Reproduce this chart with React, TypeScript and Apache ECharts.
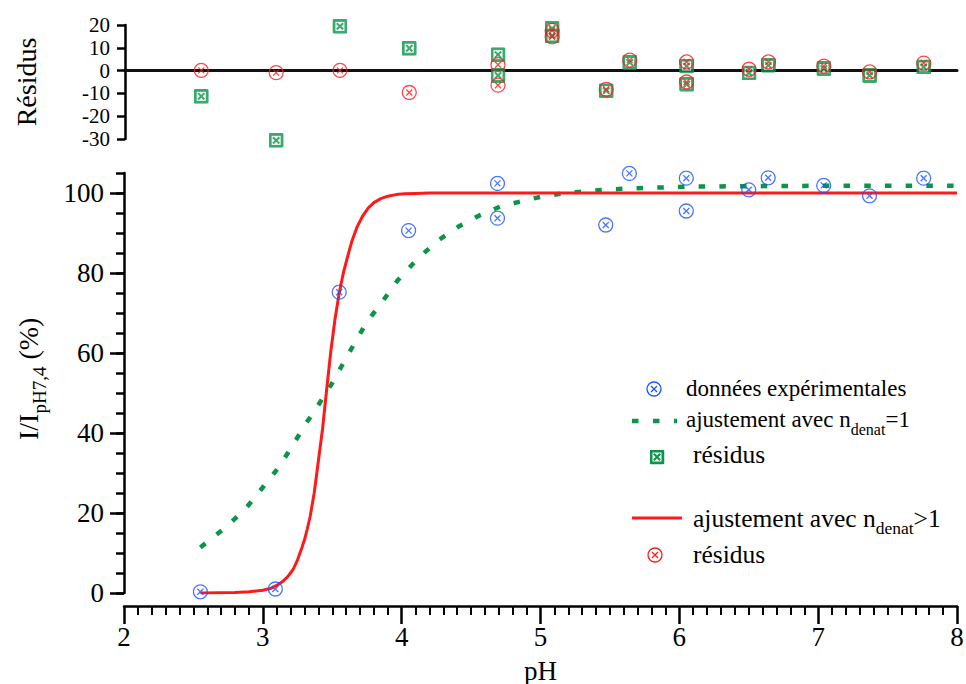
import React, { useEffect, useRef } from "react";
import * as echarts from "echarts";

const FONT = "Liberation Serif";
const INK = "#000";
const BLUE = "#1a55ff";
const RED = "#ff1a1a";
const GREEN = "#0a9548";

// measured samples
const phData = [2.55, 3.09, 3.55, 4.05, 4.69, 4.69, 5.08, 5.08, 5.47, 5.64, 6.05, 6.05, 6.5, 6.64, 7.04, 7.37, 7.76];
const intensity = [0.3, 1.0, 75.2, 90.6, 102.4, 93.7, 117.5, 115.0, 92.0, 104.9, 103.7, 95.5, 100.8, 103.8, 101.9, 99.3, 103.7];
// residuals
const residN1 = [-11.3, -30.6, 19.4, 9.8, 7.0, -2.1, 18.5, 15.2, -8.8, 3.6, 2.0, -6.0, -1.0, 2.3, 0.9, -2.1, 1.6];
const residNgt1 = [0.1, -0.9, 0.1, -9.6, 2.6, -6.4, 17.6, 14.8, -8.2, 4.6, 3.8, -5.0, 0.6, 3.8, 2.0, -0.6, 3.3];
// fit n_denat = 1
const fitN1pH = [2.55, 2.71, 2.87, 2.99, 3.11, 3.21, 3.3, 3.4, 3.5, 3.58, 3.66, 3.75, 3.86, 3.97, 4.11, 4.26, 4.41, 4.56, 4.71, 4.88, 5.01, 5.16, 5.31, 5.46, 5.61, 5.76, 5.91, 6.06, 6.5, 7.0, 7.5, 8.0];
const fitN1Val = [11.4, 15.8, 20.8, 26.0, 31.2, 36.6, 41.8, 47.0, 52.5, 57.5, 62.4, 67.8, 72.8, 78.1, 83.4, 88.1, 91.6, 94.4, 96.6, 98.1, 99.1, 99.9, 100.4, 100.8, 101.1, 101.3, 101.4, 101.6, 101.7, 101.8, 101.8, 101.8];
// fit n_denat > 1
const fitN2pH = [2.55, 2.7, 2.8, 2.9, 3.0, 3.06, 3.1, 3.14, 3.18, 3.22, 3.25, 3.28, 3.3, 3.32, 3.34, 3.37, 3.4, 3.43, 3.46, 3.49, 3.52, 3.55, 3.58, 3.61, 3.64, 3.68, 3.72, 3.76, 3.8, 3.85, 3.9, 3.96, 4.02, 4.1, 4.2, 4.35, 4.6, 5.0, 6.0, 7.0, 8.0];
const fitN2Val = [0.0, 0.05, 0.1, 0.3, 0.7, 1.2, 1.9, 2.8, 4.1, 6.0, 8.3, 11.2, 13.3, 16.0, 19.0, 25.0, 33.0, 41.0, 51.0, 60.5, 68.5, 75.0, 80.0, 84.0, 87.8, 91.6, 94.3, 96.3, 97.6, 98.6, 99.2, 99.6, 99.8, 99.9, 100, 100, 100, 100, 100, 100, 100];
// ticks
const mainYTicks = [0, 20, 40, 60, 80, 100];
const residTicksA = [-30, -10, 10];
const residTicksB = [-20, 0, 20];

const svgUri = (svg: string) => "data:image/svg+xml;charset=utf-8," + encodeURIComponent(svg);
const circleX = (c: string) =>
  svgUri(
    `<svg xmlns="http://www.w3.org/2000/svg" width="16" height="16" viewBox="0 0 16 16"><circle cx="8" cy="8" r="7" fill="none" stroke="${c}" stroke-width="1.3"/><path d="M5 5L11 11M11 5L5 11" stroke="${c}" stroke-width="1.3" fill="none"/></svg>`
  );
const squareX = (c: string) =>
  svgUri(
    `<svg xmlns="http://www.w3.org/2000/svg" width="15" height="15" viewBox="0 0 15 15"><rect x="0" y="0" width="15" height="15" rx="2" fill="${c}"/><rect x="3" y="3" width="9" height="9" fill="#fff"/><path d="M4.3 4.3L10.7 10.7M10.7 4.3L4.3 10.7" stroke="${c}" stroke-width="2" fill="none"/></svg>`
  );

const BLUE_SYM = circleX(BLUE);
const RED_SYM = circleX(RED);
const GREEN_SYM = squareX(GREEN);

function measure(text: string, size: number): number {
  const ctx = document.createElement("canvas").getContext("2d");
  if (!ctx) return text.length * size * 0.45;
  ctx.font = `${size}px "Liberation Serif"`;
  return ctx.measureText(text).width;
}

function txt(text: string, x: number, y: number, size: number, align = "left") {
  return {
    type: "text",
    x,
    y,
    style: { text, fontSize: size, fontFamily: FONT, fill: INK, align, verticalAlign: "middle" },
  };
}

function img(uri: string, cx: number, cy: number, s: number) {
  return { type: "image", x: cx - s / 2, y: cy - s / 2, style: { image: uri, width: s, height: s } };
}

export default function App() {
  const ref = useRef<HTMLDivElement>(null);

  useEffect(() => {
    if (!ref.current) return;
    const chart = echarts.init(ref.current, undefined, { renderer: "svg" });

    const axisLine = { show: true, onZero: false, lineStyle: { color: INK, width: 2.5 } };
    const tickStyle = { color: INK, width: 2.5 };

    // y title pieces
    const yt1 = "I/I";
    const yt2 = "pH7,4";
    const yt3 = " (%)";
    const w1 = measure(yt1, 28);
    const w2 = measure(yt2, 19);

    // legend pieces
    const l2a = "ajustement avec n";
    const l2aw = measure(l2a, 23);
    const l2bw = measure("denat", 16);
    const l4aw = measure(l2a, 25.5);
    const l4bw = measure("denat", 17.5);

    const graphic = [
      {
        type: "group",
        x: 26,
        y: 82,
        rotation: Math.PI / 2,
        children: [txt("Résidus", 0, 0, 28, "center")],
      },
      {
        type: "group",
        x: 28,
        y: 440,
        rotation: Math.PI / 2,
        children: [txt(yt1, 0, 0, 28), txt(yt2, w1, 11, 19), txt(yt3, w1 + w2, 0, 28)],
      },
      // legend
      img(BLUE_SYM, 654, 389, 16),
      txt("données expérimentales", 686, 388, 23),
      { type: "line", shape: { x1: 632, y1: 421, x2: 677, y2: 421 }, style: { stroke: GREEN, lineWidth: 4.5, lineDash: [6.5, 14.5] } },
      txt(l2a, 686, 419.5, 23),
      txt("denat", 686 + l2aw, 429, 16),
      txt("=1", 686 + l2aw + l2bw, 419.5, 23),
      img(GREEN_SYM, 657, 457, 15),
      txt("résidus", 693, 454, 25.5),
      { type: "line", shape: { x1: 632, y1: 518, x2: 682, y2: 518 }, style: { stroke: RED, lineWidth: 3 } },
      txt(l2a, 693, 518, 25.5),
      txt("denat", 693 + l4aw, 528, 17.5),
      txt(">1", 693 + l4aw + l4bw, 518, 25.5),
      img(RED_SYM, 655, 555, 16),
      txt("résidus", 693, 554, 25.5),
    ];

    const residLabel = {
      fontSize: 21,
      color: INK,
      margin: 15,
      fontFamily: FONT,
      showMinLabel: true,
      showMaxLabel: true,
    };

    const option: any = {
      animation: false,
      backgroundColor: "#fff",
      textStyle: { fontFamily: FONT },
      grid: [
        { left: 125, right: 9, top: 25, height: 114, outerBoundsMode: "none", containLabel: false },
        { left: 124, right: 9, top: 173, height: 420, outerBoundsMode: "none", containLabel: false },
      ],
      xAxis: [
        {
          gridIndex: 0,
          type: "value",
          min: 2,
          max: 8,
          interval: 1,
          axisLine: { show: true, onZero: true, lineStyle: { color: "#111", width: 3 } },
          axisTick: { show: false },
          axisLabel: { show: false },
          splitLine: { show: false },
        },
        {
          gridIndex: 1,
          type: "value",
          min: 2,
          max: 8,
          interval: 1,
          offset: 13,
          axisLine,
          axisTick: { show: true, length: 18, lineStyle: tickStyle },
          minorTick: { show: true, splitNumber: 10, length: 9, lineStyle: { color: INK, width: 2 } },
          axisLabel: { fontSize: 27, color: INK, margin: 17, fontFamily: FONT, showMinLabel: true, showMaxLabel: true },
          splitLine: { show: false },
          name: "pH",
          nameLocation: "middle",
          nameGap: 51,
          nameTextStyle: { fontSize: 27, color: INK, fontFamily: FONT },
        },
      ],
      yAxis: [
        {
          gridIndex: 0,
          type: "value",
          position: "left",
          min: -30,
          max: 20,
          interval: 10,
          axisLine,
          axisTick: { show: true, length: 8, lineStyle: tickStyle },
          axisLabel: { ...residLabel, customValues: residTicksA },
          splitLine: { show: false },
        },
        {
          gridIndex: 1,
          type: "value",
          position: "left",
          min: 0,
          max: 105,
          interval: 20,
          axisLine,
          axisTick: { show: true, length: 14, lineStyle: tickStyle, customValues: mainYTicks },
          axisLabel: { fontSize: 27, color: INK, margin: 20, fontFamily: FONT, customValues: mainYTicks, showMinLabel: true, showMaxLabel: true },
          splitLine: { show: false },
        },
        {
          gridIndex: 1,
          type: "value",
          position: "left",
          min: 0,
          max: 105,
          interval: 5,
          axisLine: { show: false },
          axisTick: { show: true, length: 8, lineStyle: tickStyle },
          axisLabel: { show: false },
          splitLine: { show: false },
        },
        {
          gridIndex: 0,
          type: "value",
          position: "left",
          min: -30,
          max: 20,
          interval: 10,
          axisLine: { show: false },
          axisTick: { show: false },
          axisLabel: { ...residLabel, customValues: residTicksB },
          splitLine: { show: false },
        },
      ],
      series: [
        {
          name: "résidus (n_denat=1)",
          type: "scatter",
          xAxisIndex: 0,
          yAxisIndex: 0,
          clip: false,
          symbol: "image://" + GREEN_SYM,
          symbolSize: 15,
          data: phData.map((p, i) => [p, residN1[i]]),
          z: 3,
        },
        {
          name: "résidus (n_denat>1)",
          type: "scatter",
          xAxisIndex: 0,
          yAxisIndex: 0,
          clip: false,
          symbol: "image://" + RED_SYM,
          symbolSize: 16,
          data: phData.map((p, i) => [p, residNgt1[i]]),
          z: 4,
        },
        {
          name: "ajustement avec n_denat=1",
          type: "line",
          xAxisIndex: 1,
          yAxisIndex: 1,
          showSymbol: false,
          smooth: false,
          lineStyle: { color: GREEN, width: 4.5, type: [6.5, 14.2], cap: "butt" },
          data: fitN1pH.map((p, i) => [p, fitN1Val[i]]),
          z: 2,
        },
        {
          name: "ajustement avec n_denat>1",
          type: "line",
          xAxisIndex: 1,
          yAxisIndex: 1,
          showSymbol: false,
          smooth: false,
          lineStyle: { color: RED, width: 3, join: "round" },
          data: fitN2pH.map((p, i) => [p, fitN2Val[i]]),
          z: 3,
        },
        {
          name: "données expérimentales",
          type: "scatter",
          xAxisIndex: 1,
          yAxisIndex: 1,
          clip: true,
          symbol: "image://" + BLUE_SYM,
          symbolSize: 16,
          data: phData.map((p, i) => [p, intensity[i]]),
          z: 5,
        },
      ],
      graphic,
    };

    chart.setOption(option);
    return () => chart.dispose();
  }, []);

  return <div ref={ref} style={{ position: "absolute", left: 0, top: 0, width: 966, height: 684 }} />;
}
